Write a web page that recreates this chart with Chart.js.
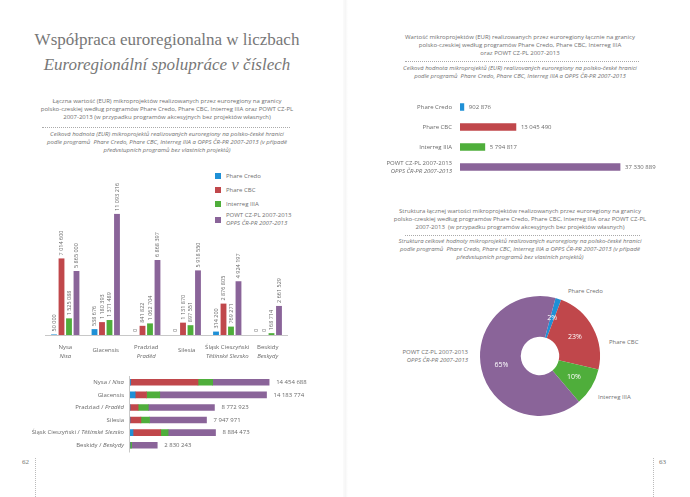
<!DOCTYPE html>
<html>
<head>
<meta charset="utf-8">
<script src="https://cdn.jsdelivr.net/npm/chart.js@4"></script>
<style>
body{margin:0;width:690px;height:497px;background:#fff;position:relative;overflow:hidden;font-family:"Open Sans",sans-serif;color:#707070}
.abs{position:absolute;white-space:nowrap}
canvas{position:absolute}
.title{font-family:"Liberation Serif",serif;color:#777;font-size:17px;line-height:20px;text-align:center}
.small{font-size:6px;line-height:8px;text-align:center}
.it{font-style:italic}
.dots{position:absolute;border-top:1px dotted #aaa;height:0}
.vdots{position:absolute;border-left:1px dotted #bbb;width:0}
.pg{font-family:"Liberation Serif",serif;font-size:7px;color:#777}
.leg{font-size:6px;line-height:8px}
.sq{position:absolute;width:6px;height:6px}
</style>
</head>
<body>
<!-- gutter -->
<div class="abs" style="left:343px;top:0;width:5px;height:497px;background:linear-gradient(to right,rgba(0,0,0,0.015),rgba(0,0,0,0.035),rgba(0,0,0,0))"></div>

<!-- left page texts -->
<div class="abs title" style="left:0;width:334px;top:30px">Współpraca euroregionalna w liczbach</div>
<div class="abs title it" style="left:0;width:334px;top:55px">Euroregionální spolupráce v číslech</div>
<div class="abs small" style="left:0;width:334px;top:97px">Łączna wartość (EUR) mikroprojektów realizowanych przez euroregiony na granicy<br>polsko-czeskiej według programów Phare Credo, Phare CBC, Interreg IIIA oraz POWT CZ-PL<br>2007-2013 (w przypadku programów akcesyjnych bez projektów własnych)</div>
<div class="dots" style="left:42px;top:127px;width:248px"></div>
<div class="abs small it" style="left:0;width:334px;top:130px">Celková hodnota (EUR) mikroprojektů realizovaných euroregiony na polsko-české hranici<br>podle programů&nbsp; Phare Credo, Phare CBC, Interreg IIIA a OPPS ČR-PR 2007-2013 (v případě<br>předvstupních programů bez vlastních projektů)</div>
<div id="legend"></div>

<!-- right page texts -->
<div class="abs small" style="left:370px;width:300px;top:33px">Wartość mikroprojektów (EUR) realizowanych przez euroregiony łącznie na granicy<br>polsko-czeskiej według programów Phare Credo, Phare CBC, Interreg IIIA<br>oraz POWT CZ-PL 2007-2013</div>
<div class="dots" style="left:405px;top:61px;width:234px"></div>
<div class="abs small it" style="left:370px;width:300px;top:64px">Celková hodnota mikroprojektů (EUR) realizovaných euroregiony na polsko-české hranici<br>podle programů&nbsp; Phare Credo, Phare CBC, Interreg IIIA a OPPS ČR-PR 2007-2013</div>
<div class="abs small" style="left:370px;width:300px;top:207px">Struktura łącznej wartości mikroprojektów realizowanych przez euroregiony na granicy<br>polsko-czeskiej według programów Phare Credo, Phare CBC, Interreg IIIA oraz POWT CZ-PL<br>2007-2013&nbsp; (w przypadku programów akcesyjnych bez projektów własnych)</div>
<div class="dots" style="left:405px;top:235px;width:235px"></div>
<div class="abs small it" style="left:370px;width:300px;top:237px">Struktura celkové hodnoty mikroprojektů realizovaných euroregiony na polsko-české hranici<br>podle programů&nbsp; Phare Credo, Phare CBC, Interreg IIIA a OPPS ČR-PR 2007-2013 (v případě<br>předvstupních programů bez vlastních projektů)</div>

<!-- doughnut outside labels -->
<div class="abs leg" style="left:568px;top:287px">Phare Credo</div>
<div class="abs leg" style="left:609px;top:338px">Phare CBC</div>
<div class="abs leg" style="left:598px;top:393px">Interreg IIIA</div>
<div class="abs leg" style="left:398px;width:70px;text-align:right;top:348px">POWT CZ-PL 2007-2013<br><span class="it">OPPS ČR-PR 2007-2013</span></div>

<!-- page numbers -->
<div class="abs pg" style="left:22px;top:458px">62</div>
<div class="vdots" style="left:35px;top:458px;height:39px"></div>
<div class="abs pg" style="left:659px;top:458px">63</div>
<div class="vdots" style="left:653px;top:458px;height:39px"></div>

<canvas id="groupChart" width="255" height="200" style="left:40px;top:170px"></canvas>
<canvas id="stackChart" width="300" height="90" style="left:20px;top:370px"></canvas>
<canvas id="totalChart" width="300" height="95" style="left:370px;top:90px"></canvas>
<canvas id="shareChart" width="200" height="200" style="left:440px;top:256px"></canvas>

<script>
// regions (PL / CZ names)
const regionsPL = ['Nysa', 'Glacensis', 'Pradziad', 'Silesia', 'Śląsk Cieszyński', 'Beskidy'];
const regionsCZ = ['Nisa', '', 'Praděd', '', 'Těšínské Slezsko', 'Beskydy'];

// programmes
const programsPL = ['Phare Credo', 'Phare CBC', 'Interreg IIIA', 'POWT CZ-PL 2007-2013'];
const programsCZ = ['', '', '', 'OPPS ČR-PR 2007-2013'];

// values in EUR per region
const phareCredo = [50000, 538676, 0, 0, 314200, 0];
const phareCBC = [7014600, 1180393, 841822, 1131870, 2876805, 0];
const interreg = [1525088, 1371489, 1062704, 897551, 769271, 168714];
const powt = [5865000, 11093216, 6868397, 5918550, 4924197, 2661529];

const colors = ['#1f90d6', '#c0474b', '#4fae3b', '#8a6499'];

const series = [phareCredo, phareCBC, interreg, powt];
const programTotals = series.map(s => s.reduce((a, b) => a + b, 0));
const grandTotal = programTotals.reduce((a, b) => a + b, 0);

function fmt(n) {
    return String(n).replace(/\B(?=(\d{3})+(?!\d))/g, ' ');
}

const FONT = '"Open Sans", sans-serif';
const TXT = '#6a6a6a';

Chart.defaults.animation = false;
Chart.defaults.responsive = false;
Chart.defaults.plugins.legend.display = false;
Chart.defaults.plugins.tooltip.enabled = false;
Chart.defaults.events = [];

// legend for the grouped chart
const legendTops = [173, 187, 201, 217];
document.getElementById('legend').innerHTML = programsPL.map((p, i) =>
    '<div class="sq" style="left:215px;top:' + legendTops[i] + 'px;background:' + colors[i] + '"></div>' +
    '<div class="abs leg" style="left:226px;top:' + (programsCZ[i] ? legendTops[i] - 6 : legendTops[i] - 1) + 'px">' + p +
    (programsCZ[i] ? '<br><span class="it">' + programsCZ[i] + '</span>' : '') + '</div>'
).join('');

// Grouped vertical bars per region
const groupLabels = {
    id: 'groupLabels',
    afterDatasetsDraw(chart) {
        const ctx = chart.ctx;
        const area = chart.chartArea;
        ctx.save();
        ctx.strokeStyle = '#c8c8c8';
        ctx.lineWidth = 1;
        ctx.beginPath();
        ctx.moveTo(area.left, area.bottom + 0.5);
        ctx.lineTo(area.right, area.bottom + 0.5);
        ctx.stroke();
        ctx.fillStyle = TXT;
        ctx.font = '5.5px ' + FONT;
        chart.data.datasets.forEach((ds, di) => {
            chart.getDatasetMeta(di).data.forEach((el, i) => {
                ctx.save();
                ctx.translate(el.x, el.y - 3);
                ctx.rotate(-Math.PI / 2);
                ctx.textAlign = 'left';
                ctx.textBaseline = 'middle';
                ctx.fillText(fmt(ds.data[i]), 0, 0);
                ctx.restore();
            });
        });
        const xs = chart.scales.x;
        ctx.textAlign = 'center';
        ctx.textBaseline = 'middle';
        regionsPL.forEach((r, i) => {
            const x = xs.getPixelForValue(i);
            if (regionsCZ[i]) {
                ctx.font = '6px ' + FONT;
                ctx.fillText(r, x, area.bottom + 12);
                ctx.font = 'italic 6px ' + FONT;
                ctx.fillText(regionsCZ[i], x, area.bottom + 21);
            } else {
                ctx.font = '6px ' + FONT;
                ctx.fillText(r, x, area.bottom + 15);
            }
        });
        ctx.restore();
    }
};

new Chart(document.getElementById('groupChart'), {
    type: 'bar',
    data: {
        labels: regionsPL,
        datasets: series.map((s, i) => ({
            label: programsPL[i],
            data: s,
            backgroundColor: colors[i],
            categoryPercentage: 0.74,
            barPercentage: 0.78
        }))
    },
    options: {
        layout: { padding: { left: 5, right: 7, top: 34, bottom: 35 } },
        scales: {
            x: { display: false },
            y: { display: false, min: 0, max: 12000000 }
        }
    },
    plugins: [groupLabels]
});

// Stacked horizontal bars: total per region
const stackLabels = {
    id: 'stackLabels',
    afterDatasetsDraw(chart) {
        const ctx = chart.ctx;
        const area = chart.chartArea;
        ctx.save();
        ctx.strokeStyle = '#c8c8c8';
        ctx.lineWidth = 1;
        ctx.beginPath();
        ctx.moveTo(area.left - 0.5, area.top);
        ctx.lineTo(area.left - 0.5, area.bottom + 1);
        ctx.stroke();
        ctx.fillStyle = TXT;
        ctx.textBaseline = 'middle';
        const last = chart.getDatasetMeta(chart.data.datasets.length - 1).data;
        regionsPL.forEach((r, i) => {
            const y = last[i].y;
            let x = area.left - 6;
            ctx.textAlign = 'right';
            if (regionsCZ[i]) {
                ctx.font = 'italic 6px ' + FONT;
                ctx.fillText(regionsCZ[i], x, y);
                x -= ctx.measureText(regionsCZ[i]).width;
                ctx.font = '6px ' + FONT;
                ctx.fillText(r + ' / ', x, y);
            } else {
                ctx.font = '6px ' + FONT;
                ctx.fillText(r, x, y);
            }
            const total = series.reduce((a, s) => a + s[i], 0);
            ctx.textAlign = 'left';
            ctx.font = '6px ' + FONT;
            ctx.fillText(fmt(total), last[i].x + 7, y);
        });
        ctx.restore();
    }
};

new Chart(document.getElementById('stackChart'), {
    type: 'bar',
    data: {
        labels: regionsPL,
        datasets: series.map((s, i) => ({
            label: programsPL[i],
            data: s,
            backgroundColor: colors[i],
            barThickness: 6
        }))
    },
    options: {
        indexAxis: 'y',
        layout: { padding: { left: 110, right: 36, top: 6, bottom: 8.5 } },
        scales: {
            x: { display: false, stacked: true, min: 0, max: 16000000 },
            y: { display: false, stacked: true }
        }
    },
    plugins: [stackLabels]
});

// Horizontal bars: total per programme
const totalLabels = {
    id: 'totalLabels',
    afterDatasetsDraw(chart) {
        const ctx = chart.ctx;
        const area = chart.chartArea;
        ctx.save();
        ctx.fillStyle = TXT;
        ctx.textBaseline = 'middle';
        chart.getDatasetMeta(0).data.forEach((el, i) => {
            ctx.textAlign = 'right';
            if (programsCZ[i]) {
                ctx.font = '6px ' + FONT;
                ctx.fillText(programsPL[i], area.left - 8, el.y - 4);
                ctx.font = 'italic 6px ' + FONT;
                ctx.fillText(programsCZ[i], area.left - 8, el.y + 4);
            } else {
                ctx.font = '6px ' + FONT;
                ctx.fillText(programsPL[i], area.left - 8, el.y);
            }
            ctx.textAlign = 'left';
            ctx.font = '6px ' + FONT;
            ctx.fillText(fmt(programTotals[i]), el.x + 5, el.y);
        });
        ctx.restore();
    }
};

new Chart(document.getElementById('totalChart'), {
    type: 'bar',
    data: {
        labels: programsPL,
        datasets: [{
            data: programTotals,
            backgroundColor: colors,
            barThickness: 7
        }]
    },
    options: {
        indexAxis: 'y',
        layout: { padding: { left: 90, right: 38.5, top: 7, bottom: 8 } },
        scales: {
            x: { display: false, min: 0, max: 40000000 },
            y: { display: false }
        }
    },
    plugins: [totalLabels]
});

// Doughnut: share of each programme
const shareLabels = {
    id: 'shareLabels',
    afterDatasetsDraw(chart) {
        const ctx = chart.ctx;
        ctx.save();
        ctx.fillStyle = '#fff';
        ctx.font = '7px ' + FONT;
        ctx.textAlign = 'center';
        ctx.textBaseline = 'middle';
        chart.getDatasetMeta(0).data.forEach((arc, i) => {
            const p = arc.tooltipPosition();
            ctx.fillText(Math.round(programTotals[i] / grandTotal * 100) + '%', p.x, p.y);
        });
        ctx.restore();
    }
};

new Chart(document.getElementById('shareChart'), {
    type: 'doughnut',
    data: {
        labels: programsPL,
        datasets: [{
            data: programTotals,
            backgroundColor: colors,
            borderWidth: 0
        }]
    },
    options: {
        rotation: 15,
        cutout: '32%',
        layout: { padding: 40 }
    },
    plugins: [shareLabels]
});
</script>
</body>
</html>
